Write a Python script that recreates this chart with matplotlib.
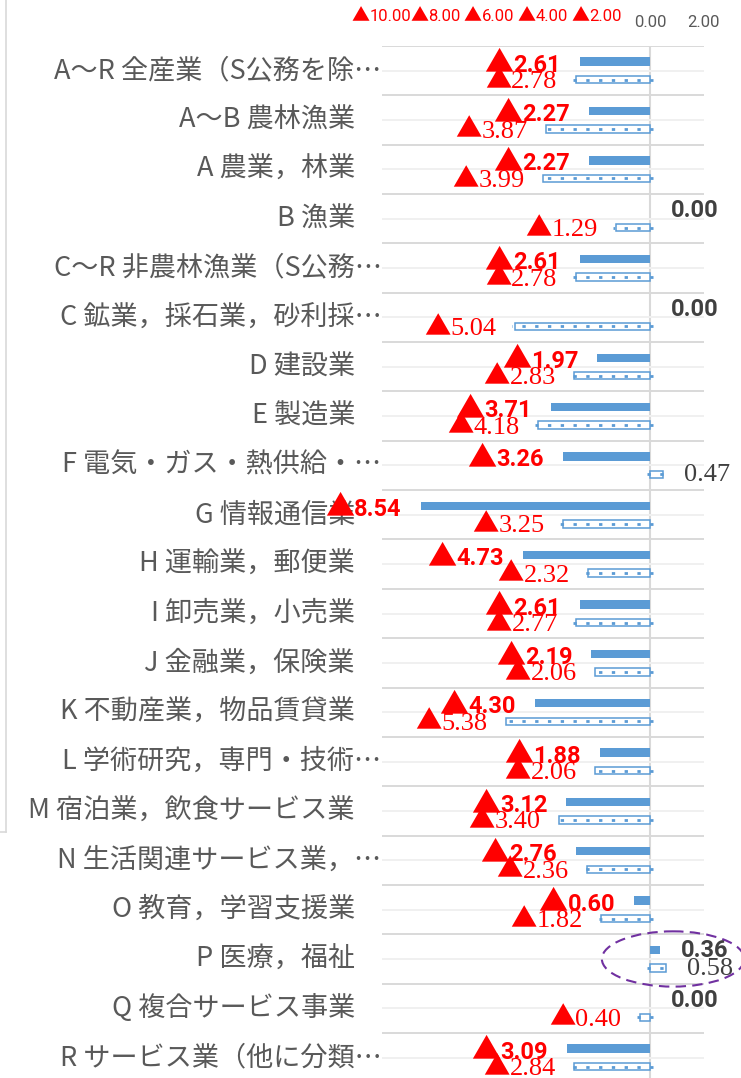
import numpy as np
import matplotlib
matplotlib.use("Agg")
import matplotlib.pyplot as plt
from matplotlib.lines import Line2D
from matplotlib.patches import Ellipse
from matplotlib.offsetbox import TextArea, HPacker, AnnotationBbox

# Industry categories (top to bottom)
categories = [
    "A～R 全産業（S公務を除…",
    "A～B 農林漁業",
    "A 農業，林業",
    "B 漁業",
    "C～R 非農林漁業（S公務…",
    "C 鉱業，採石業，砂利採…",
    "D 建設業",
    "E 製造業",
    "F 電気・ガス・熱供給・…",
    "G 情報通信業",
    "H 運輸業，郵便業",
    "I 卸売業，小売業",
    "J 金融業，保険業",
    "K 不動産業，物品賃貸業",
    "L 学術研究，専門・技術…",
    "M 宿泊業，飲食サービス業",
    "N 生活関連サービス業，…",
    "O 教育，学習支援業",
    "P 医療，福祉",
    "Q 複合サービス事業",
    "R サービス業（他に分類…",
]

# Series values (solid bars / patterned bars)
series_solid = [-2.61, -2.27, -2.27, 0.00, -2.61, 0.00, -1.97, -3.71, -3.26, -8.54,
                -4.73, -2.61, -2.19, -4.30, -1.88, -3.12, -2.76, -0.60, 0.36, 0.00, -3.09]
series_dotted = [-2.78, -3.87, -3.99, -1.29, -2.78, -5.04, -2.83, -4.18, 0.47, -3.25,
                 -2.32, -2.77, -2.06, -5.38, -2.06, -3.40, -2.36, -1.82, 0.58, -0.40, -2.84]

x_ticks = [-10, -8, -6, -4, -2, 0, 2]

BLUE = "#5B9BD5"
RED = "#FF0000"
GRAY = "#595959"
DARK = "#404040"
CJK = "Noto Sans CJK JP"


def signed_label(v, num_props, tri_props):
    """Number label where negatives carry a leading ▲ instead of a minus sign."""
    parts = []
    if v < 0:
        parts.append(TextArea("▲", textprops=tri_props))
    parts.append(TextArea(f"{abs(v):.2f}", textprops=num_props))
    return HPacker(children=parts, align="baseline", pad=0, sep=0)


W, H = 741, 1078
fig = plt.figure(figsize=(W / 100, H / 100), dpi=100)
fig.patch.set_facecolor("white")

ax_left, ax_right = 381.5, 704.0
ax_top, ax_bottom = 46.0, 46.0 + 21 * 49.35
ax = fig.add_axes([ax_left / W, 1 - ax_bottom / H,
                   (ax_right - ax_left) / W, (ax_bottom - ax_top) / H])

n = len(categories)
y = np.arange(n)
ax.set_xlim(-10, 2)
ax.set_ylim(n - 0.5, -0.5)

for s in ax.spines.values():
    s.set_visible(False)

# Row gridlines: darker between categories, lighter through the middle
ax.set_yticks(y)
ax.set_yticks(np.arange(n + 1) - 0.5, minor=True)
ax.grid(axis="y", which="major", color="#F0F0F0", lw=1.4, zorder=0)
ax.grid(axis="y", which="minor", color="#D9D9D9", lw=1.4, zorder=0)
ax.tick_params(axis="y", which="both", length=0, labelleft=False)
ax.set_xticks(x_ticks)
ax.tick_params(axis="x", length=0, labelbottom=False, labeltop=False)
ax.axvline(0, color="#D9D9D9", lw=1.5, zorder=1)

# Top value axis labels
xtrans = ax.get_xaxis_transform()
for t in x_ticks:
    color = RED if t < 0 else GRAY
    box = signed_label(t,
                       dict(family=["Roboto"], fontsize=12, color=color),
                       dict(family=[CJK], fontsize=13, color=color))
    ab = AnnotationBbox(box, (t, 1.0), xycoords=xtrans,
                        xybox=(0, 21 if t < 0 else 16), boxcoords="offset pixels",
                        box_alignment=(0.5, 0.0), frameon=False, pad=0,
                        annotation_clip=False)
    ax.add_artist(ab)

off = 0.182
solid = np.array(series_solid)
dotted = np.array(series_dotted)

ax.barh(y - off, solid, height=0.17, color=BLUE, zorder=3)
ax.barh(y + off, dotted, height=0.15, facecolor="white", edgecolor=BLUE,
        lw=1.1, zorder=3)

# dotted fill pattern inside the outlined bars
sign = np.sign(dotted)
start = -sign * 0.12
end = dotted + sign * 0.1
ax.hlines(y + off, start, end, colors=BLUE, lw=2.0,
          linestyles=[(0, (1.2, 3.4))], zorder=4, capstyle="butt")


def place(box, v, yc, dx, dy):
    ab = AnnotationBbox(box, (v, yc), xycoords="data",
                        xybox=(dx, dy), boxcoords="offset pixels",
                        box_alignment=(1.0 if dx < 0 else 0.0, 0.5),
                        frameon=False, pad=0, annotation_clip=False)
    ab.set_zorder(6)
    ax.add_artist(ab)


# Data labels: solid series in bold sans, patterned series in serif
for yi, v in zip(y, solid):
    color = RED if v < 0 else DARK
    box = signed_label(v,
                       dict(family=["Roboto"], fontsize=17, fontweight="bold", color=color),
                       dict(family=[CJK], fontsize=21, fontweight="bold", color=color))
    place(box, v, yi - off, -19 if v < 0 else 21, -1)

for yi, v in zip(y, dotted):
    color = RED if v < 0 else DARK
    box = signed_label(v,
                       dict(family=["Liberation Serif"], fontsize=19, color=color),
                       dict(family=[CJK], fontsize=19, color=color))
    place(box, v, yi + off, -18 if v < 0 else 21, -1)

# Category labels
ytrans = ax.get_yaxis_transform()
for yi, name in zip(y, categories):
    xr = 0.0 if name.endswith("…") else -26.5 / (ax_right - ax_left)
    ax.text(xr, yi, name, transform=ytrans, ha="right", va="center",
            fontsize=19.5, color=GRAY, family=[CJK, "DejaVu Sans"], zorder=2)

# Highlight around the medical / welfare row
ax.add_patch(Ellipse((0.85, 18), width=5.3, height=1.12, fill=False,
                     edgecolor="#7030A0", lw=1.5, ls=(0, (5, 3)),
                     clip_on=False, zorder=7))

# Frame edge on the left side of the sheet
fig.add_artist(Line2D([6 / W, 6 / W], [1, 1 - 832 / H], transform=fig.transFigure,
                      color="#D9D9D9", lw=1.2))
fig.add_artist(Line2D([0, 6 / W], [1 - 832 / H, 1 - 832 / H], transform=fig.transFigure,
                      color="#D9D9D9", lw=1.2))

fig.savefig("out.png", dpi=100, facecolor="white")
